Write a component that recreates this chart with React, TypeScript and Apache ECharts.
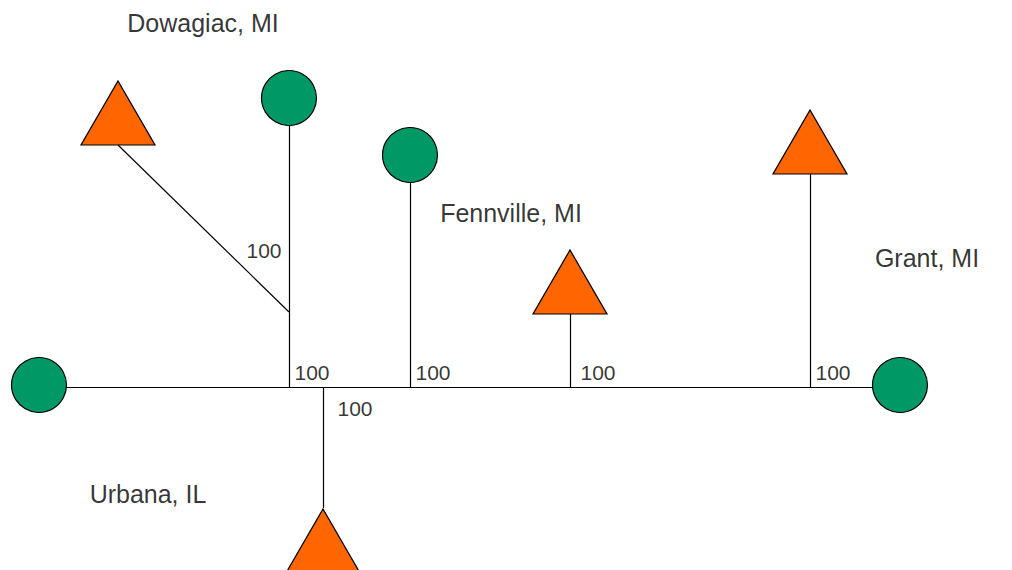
import React, { useRef, useEffect } from 'react'
import * as echarts from 'echarts'

// positions in drawing units (x to the right, y downward)
const circles: number[][] = [[39, 385], [900, 385], [289, 98], [410, 155]]
const triangles: number[][] = [[118, 113], [570, 282], [810, 142], [323, 541]]
const edges: number[][][] = [
  [[39, 387], [900, 387]],
  [[289, 387], [289, 98]],
  [[289, 312], [118, 145]],
  [[410, 387], [410, 155]],
  [[570, 387], [570, 313]],
  [[810, 387], [810, 173]],
  [[323, 387], [323, 508]]
]
const weights: (number | string)[][] = [
  [312, 372, '100'], [433, 372, '100'], [598, 372, '100'],
  [833, 372, '100'], [355, 408, '100'], [264, 250, '100']
]
const places: (number | string)[][] = [
  [203, 23, 'Dowagiac, MI'], [511, 213, 'Fennville, MI'],
  [927, 258, 'Grant, MI'], [148, 494, 'Urbana, IL']
]

const App: React.FC = () => {
  const chartRef = useRef<HTMLDivElement>(null)

  useEffect(() => {
    if (!chartRef.current) return
    const chart = echarts.init(chartRef.current, null, { renderer: 'svg' })
    const textSeries = (data: (number | string)[][], size: number) => ({
      type: 'scatter',
      data,
      symbolSize: 0,
      silent: true,
      z: 5,
      label: {
        show: true,
        position: 'inside',
        formatter: (p: any) => p.value[2],
        color: '#000',
        textBorderWidth: 0,
        fontSize: size,
        fontFamily: '"Liberation Sans", Arial, sans-serif'
      }
    })
    chart.setOption({
      animation: false,
      grid: { left: 0, right: 0, top: 0, bottom: 0 },
      xAxis: { type: 'value', min: 0, max: 1012, show: false },
      yAxis: { type: 'value', min: 0, max: 570, inverse: true, show: false },
      series: [
        {
          type: 'lines',
          coordinateSystem: 'cartesian2d',
          data: edges.map(c => ({ coords: c })),
          lineStyle: { color: '#000', width: 1.2, opacity: 1 },
          z: 1
        },
        {
          type: 'scatter',
          data: circles,
          symbol: 'circle',
          symbolSize: 55,
          itemStyle: { color: '#009966', borderColor: '#000', borderWidth: 1.2, opacity: 1 },
          z: 3
        },
        {
          type: 'scatter',
          data: triangles,
          symbol: 'triangle',
          symbolSize: [74, 64],
          itemStyle: { color: '#ff6600', borderColor: '#000', borderWidth: 1.2, opacity: 1 },
          z: 3
        },
        textSeries(weights, 21),
        textSeries(places, 25)
      ]
    })
    return () => chart.dispose()
  }, [])

  return (
    <div style={{ position: 'fixed', left: 0, top: 0, background: '#fff' }}>
      <div ref={chartRef} style={{ width: 1012, height: 570 }} />
    </div>
  )
}

export default App
